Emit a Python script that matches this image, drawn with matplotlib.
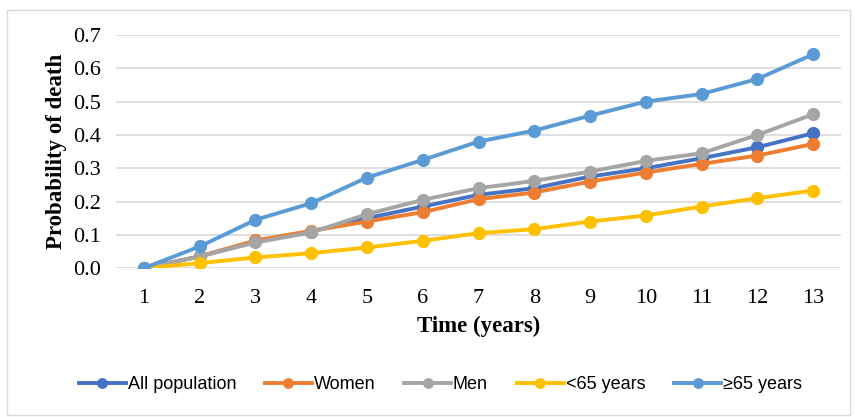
import matplotlib.pyplot as plt
from matplotlib.patches import Rectangle

# Datos
anios = list(range(1, 14))
todos = [0, 0.035, 0.08, 0.11, 0.15, 0.185, 0.22, 0.24, 0.275, 0.30, 0.33, 0.363, 0.405]
mujeres = [0, 0.035, 0.083, 0.112, 0.14, 0.168, 0.207, 0.227, 0.26, 0.287, 0.313, 0.338, 0.373]
hombres = [0, 0.035, 0.077, 0.107, 0.162, 0.205, 0.24, 0.262, 0.29, 0.322, 0.345, 0.40, 0.462]
menores65 = [0, 0.015, 0.032, 0.045, 0.062, 0.082, 0.105, 0.117, 0.14, 0.158, 0.185, 0.21, 0.233]
mayores65 = [0, 0.065, 0.145, 0.195, 0.272, 0.325, 0.38, 0.413, 0.458, 0.50, 0.523, 0.568, 0.642]

series = [
    ('All population', todos, '#4472C4'),
    ('Women', mujeres, '#ED7D31'),
    ('Men', hombres, '#A5A5A5'),
    ('<65 years', menores65, '#FFC000'),
    ('≥65 years', mayores65, '#5B9BD5'),
]

fig = plt.figure(figsize=(8.55, 4.17), dpi=100)
ax = fig.add_axes([0.1357, 0.357, 0.848, 0.559])

for nombre, valores, color in series:
    ax.plot(anios, valores, color=color, lw=2.8, marker='o', ms=8.5, label=nombre)

ax.set_xlim(0.5, 13.5)
ax.set_ylim(0, 0.7)
ax.set_xticks(anios)
ax.set_yticks([i / 10 for i in range(8)])
ax.set_yticklabels(['{:.1f}'.format(i / 10) for i in range(8)])
ax.grid(axis='y', color='#D9D9D9', lw=1.2)
ax.set_axisbelow(True)
for s in ax.spines.values():
    s.set_visible(False)
ax.tick_params(length=0, labelsize=16)
ax.tick_params(axis='x', pad=15)
ax.tick_params(axis='y', pad=11)
for t in ax.get_xticklabels() + ax.get_yticklabels():
    t.set_family('Liberation Serif')

ax.set_xlabel('Time (years)', family='Liberation Serif', fontweight='bold', fontsize=16.5, labelpad=6)
ax.set_ylabel('Probability of death', family='Liberation Serif', fontweight='bold', fontsize=16.5, labelpad=4)

fig.legend(loc='center', bbox_to_anchor=(0.515, 0.077), ncol=5, frameon=False,
           prop={'family': ['Liberation Sans', 'DejaVu Sans'], 'size': 13},
           handlelength=2.6, handletextpad=0.1, columnspacing=1.6, markerscale=0.8)

fig.patches.append(Rectangle((0.008, 0.005), 0.986, 0.97, transform=fig.transFigure,
                             fill=False, edgecolor='#D9D9D9', lw=1))

fig.savefig('out.png', dpi=100)
